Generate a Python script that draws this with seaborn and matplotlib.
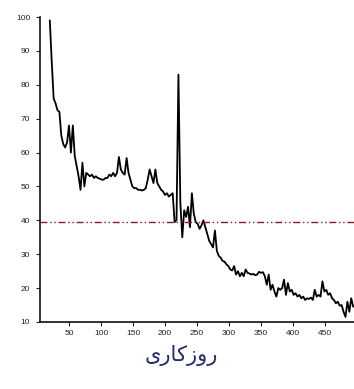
import numpy as np
import pandas as pd
import matplotlib
matplotlib.use("Agg")
import matplotlib.pyplot as plt
import seaborn as sns

# working-day index (every 3rd day)
days = list(range(20, 495, 3))
values = [
    99, 87, 76, 74.5, 72.5, 72, 65, 62.5, 61.5, 63,
    68, 60, 68, 59, 56, 53, 49, 57, 50, 54,
    53.5, 53, 53.5, 52.5, 53, 52.5, 52.3, 52, 52, 52.5,
    52.5, 53.5, 53, 54, 53, 54, 58.7, 55, 54, 53.5,
    58.4, 54, 52, 50, 49.5, 49.5, 49, 49, 48.8, 49,
    49.5, 52, 55, 53, 51, 55, 51, 50, 49, 48.5,
    47.5, 48, 47, 47.5, 48, 39.5, 40, 83, 45, 35,
    43, 41, 44, 38, 48, 42, 39.5, 39, 37.5, 38.5,
    40, 38, 36, 34, 33, 32, 37, 31, 29.5, 29,
    28, 27.8, 27, 26.5, 25.5, 25.2, 26.5, 24, 25, 23.5,
    24.5, 23.5, 25.5, 24.5, 24.3, 24, 24.2, 23.8, 24, 24.8,
    24.5, 24.7, 23.5, 21, 24, 19.5, 21, 19, 17.5, 20,
    19.5, 20, 22.5, 18, 21.5, 19, 19.5, 18, 18.5, 17.5,
    18, 17, 17.5, 16.5, 17, 16.8, 17.2, 16.5, 19.5, 17.5,
    18, 17.5, 22, 19, 19.5, 18, 18.5, 17, 16.5, 15.5,
    16, 14.8, 15, 13, 11.5, 16, 13, 17, 14.5,
]
ref_level = 39.5
x_ticks = [50, 100, 150, 200, 250, 300, 350, 400, 450]
y_ticks = [10, 20, 30, 40, 50, 60, 70, 80, 90, 100]
# Persian label "روزکاری" written in presentation forms, visual (left-to-right) order
x_label = "\uFBFC\uFEAD\uFE8E\uFB90\uFEAF\uFEED\uFEAD"

df = pd.DataFrame({"day": days[:len(values)], "value": values})

sns.set_style("ticks")
plt.rcParams["font.family"] = ["Liberation Sans", "DejaVu Sans"]

fig = plt.figure(figsize=(3.54, 3.89), dpi=100)
ax = fig.add_axes([40 / 354, 1 - 322 / 389, 1 - 40 / 354, 305 / 389])

sns.lineplot(data=df, x="day", y="value", ax=ax, color="black", linewidth=1.3)
ax.axhline(ref_level, color="#8b1a1a", linewidth=1.0,
           linestyle=(0, (5, 2, 1, 2, 1, 2)))

ax.set_xlim(4.7, 495.3)
ax.set_ylim(10, 100)
ax.set_xticks(x_ticks)
ax.set_yticks(y_ticks)
ax.tick_params(axis="both", labelsize=6, length=3, width=0.8,
               colors="#222222", pad=3)
ax.tick_params(axis="y", pad=4)
for s in ["top", "right"]:
    ax.spines[s].set_visible(False)
for s in ["left", "bottom"]:
    ax.spines[s].set_linewidth(1.2)
    ax.spines[s].set_color("#111111")

ax.set_xlabel("")
ax.set_ylabel("")
fig.text(181 / 354, 1 - 356 / 389, x_label, ha="center", va="center",
         fontsize=15, color="#1f2d6b", family=["DejaVu Sans"])

fig.savefig("out.png", dpi=100)
